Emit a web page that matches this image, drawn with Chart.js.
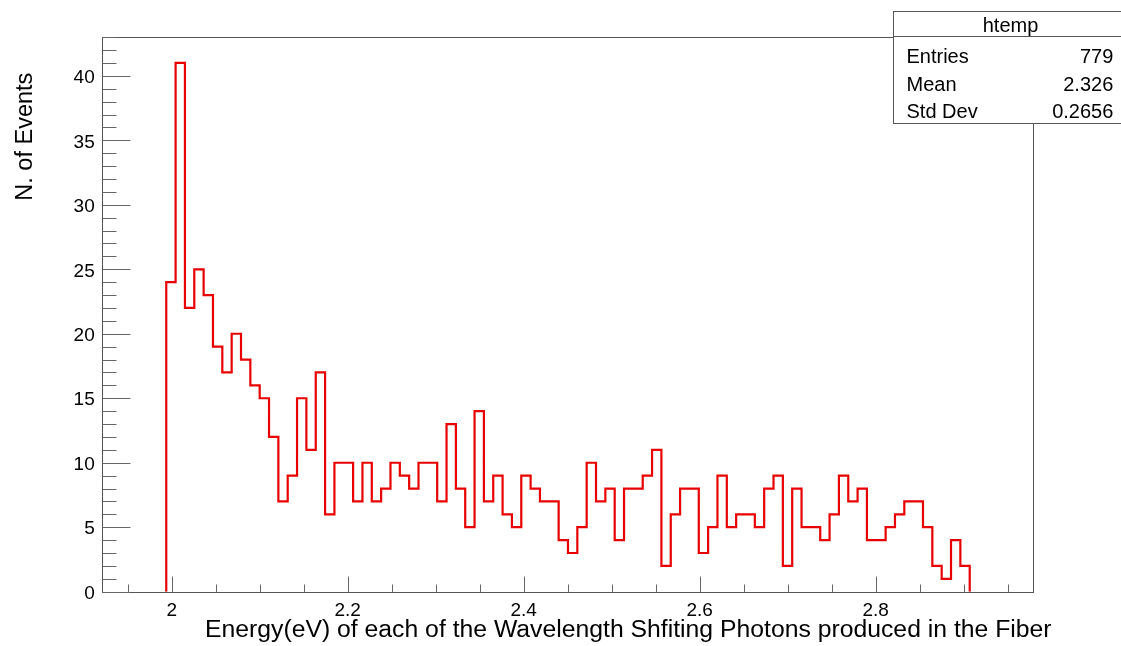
<!DOCTYPE html>
<html><head><meta charset="utf-8">
<script src="https://cdn.jsdelivr.net/npm/chart.js@4.4.0/dist/chart.umd.min.js"></script>
<style>html,body{margin:0;padding:0;background:#fff;overflow:hidden}#wrap{width:1121px;height:646px;position:relative}</style>
</head><body><div id="wrap"><canvas id="c" width="1121" height="646"></canvas></div>
<script>
// ---- data ----
const binLowEdge = 1.99386;   // low edge of first filled bin (eV)
const binWidth = 0.010616;    // histogram bin width (eV)
const counts = [24,41,22,25,23,19,17,20,18,16,15,12,7,9,15,11,17,6,10,10,7,10,7,8,
                10,9,8,10,10,7,13,8,5,14,7,9,6,5,9,8,7,7,4,3,5,10,7,8,4,8,8,9,11,2,
                6,8,8,3,5,9,5,6,6,5,8,9,2,8,5,5,4,6,9,7,8,4,4,5,6,7,7,5,2,1,4,2];
const xTickValues = [2.0, 2.2, 2.4, 2.6, 2.8];
const xTickLabels = ["2", "2.2", "2.4", "2.6", "2.8"];
const yTickValues = [0, 5, 10, 15, 20, 25, 30, 35, 40];
const yTickLabels = ["0", "5", "10", "15", "20", "25", "30", "35", "40"];
const xTitle = "Energy(eV) of each of the Wavelength Shfiting Photons produced in the Fiber";
const yTitle = "N. of Events";
const statsTitle = "htemp";
const statsLabels = ["Entries", "Mean", "Std Dev"];
const statsValues = ["779", "2.326", "0.2656"];
const xRange = [1.9205, 2.9791];
const yRange = [0, 43.05];
const xMinorStep = 0.05;
const yMinorStep = 1;

const FONT = "'Liberation Sans', Arial, sans-serif";

const pts = [{x: binLowEdge, y: 0}];
counts.forEach((c, i) => pts.push({x: binLowEdge + i * binWidth, y: c}));
pts.push({x: binLowEdge + counts.length * binWidth, y: 0});

const rootFrame = {
  id: 'rootFrame',
  beforeDatasetsDraw(chart) {
    const {ctx, chartArea: a, scales: {x, y}} = chart;
    ctx.save();
    ctx.lineWidth = 1;
    ctx.strokeStyle = '#555';
    const L = Math.round(a.left) + 0.5, R = Math.round(a.right) + 0.5;
    const T = Math.round(a.top) + 0.5, B = Math.round(a.bottom) + 0.5;
    ctx.strokeRect(L, T, R - L, B - T);
    ctx.strokeStyle = '#666';
    ctx.beginPath();
    // x ticks (inward)
    for (let v = Math.ceil(xRange[0] / xMinorStep) * xMinorStep; v <= xRange[1] + 1e-9; v += xMinorStep) {
      const major = xTickValues.some(t => Math.abs(t - v) < 1e-6);
      const px = Math.round(x.getPixelForValue(v)) + 0.5;
      ctx.moveTo(px, B);
      ctx.lineTo(px, B - (major ? 16 : 8));
    }
    // y ticks (inward)
    for (let v = Math.ceil(yRange[0] / yMinorStep) * yMinorStep; v <= yRange[1] + 1e-9; v += yMinorStep) {
      const major = yTickValues.includes(v);
      const py = Math.round(y.getPixelForValue(v)) + 0.5;
      ctx.moveTo(L, py);
      ctx.lineTo(L + (major ? 28 : 14), py);
    }
    ctx.stroke();
    ctx.restore();
  },
  afterDraw(chart) {
    const {ctx} = chart;
    ctx.save();
    ctx.fillStyle = '#000';
    // axis titles
    ctx.font = `24.75px ${FONT}`;
    ctx.textAlign = 'left';
    ctx.textBaseline = 'alphabetic';
    ctx.fillText(xTitle, 205, 636.5);
    ctx.save();
    ctx.translate(32.3, 200.7);
    ctx.rotate(-Math.PI / 2);
    ctx.font = `23.5px ${FONT}`;
    ctx.fillText(yTitle, 0, 0);
    ctx.restore();
    // stats box
    ctx.fillStyle = '#fff';
    ctx.fillRect(893.5, 11.5, 240, 112);
    ctx.strokeStyle = '#555';
    ctx.lineWidth = 1;
    ctx.strokeRect(893.5, 11.5, 240, 112);
    ctx.beginPath();
    ctx.moveTo(893.5, 36.5); ctx.lineTo(1121, 36.5);
    ctx.stroke();
    ctx.fillStyle = '#000';
    ctx.font = `20px ${FONT}`;
    ctx.textAlign = 'center';
    ctx.fillText(statsTitle, 1010.5, 32);
    const rows = [63.3, 90.7, 118.3];
    statsLabels.forEach((l, i) => {
      ctx.textAlign = 'left';
      ctx.fillText(l, 906.5, rows[i]);
      ctx.textAlign = 'right';
      ctx.fillText(statsValues[i], 1113.3, rows[i]);
    });
    ctx.restore();
  }
};

new Chart(document.getElementById('c'), {
  type: 'line',
  data: {
    datasets: [{
      data: pts,
      stepped: true,
      borderColor: 'rgb(232,0,0)',
      borderWidth: 2.2,
      pointRadius: 0,
      fill: false,
      tension: 0
    }]
  },
  options: {
    responsive: false,
    animation: false,
    devicePixelRatio: 1,
    layout: {padding: {left: 0, right: 1121 - 1033.3, top: 36.5, bottom: 0}},
    plugins: {legend: {display: false}, tooltip: {enabled: false}, title: {display: false}},
    scales: {
      x: {
        type: 'linear',
        min: xRange[0], max: xRange[1],
        grid: {display: false, drawTicks: false},
        border: {display: false},
        afterBuildTicks: s => { s.ticks = xTickValues.map(v => ({value: v})); },
        afterFit: s => { s.height = 646 - 591.7; },
        ticks: {
          font: {family: FONT, size: 19}, color: '#000', padding: 8,
          maxRotation: 0, autoSkip: false,
          callback: (v) => xTickLabels[xTickValues.findIndex(t => Math.abs(t - v) < 1e-6)]
        }
      },
      y: {
        type: 'linear',
        min: yRange[0], max: yRange[1],
        grid: {display: false, drawTicks: false},
        border: {display: false},
        afterBuildTicks: s => { s.ticks = yTickValues.map(v => ({value: v})); },
        afterFit: s => { s.width = 101.7; },
        ticks: {
          font: {family: FONT, size: 19}, color: '#000', padding: 7,
          autoSkip: false, labelOffset: 2,
          callback: (v) => yTickLabels[yTickValues.indexOf(v)]
        }
      }
    }
  },
  plugins: [rootFrame]
});
</script>
</body></html>
